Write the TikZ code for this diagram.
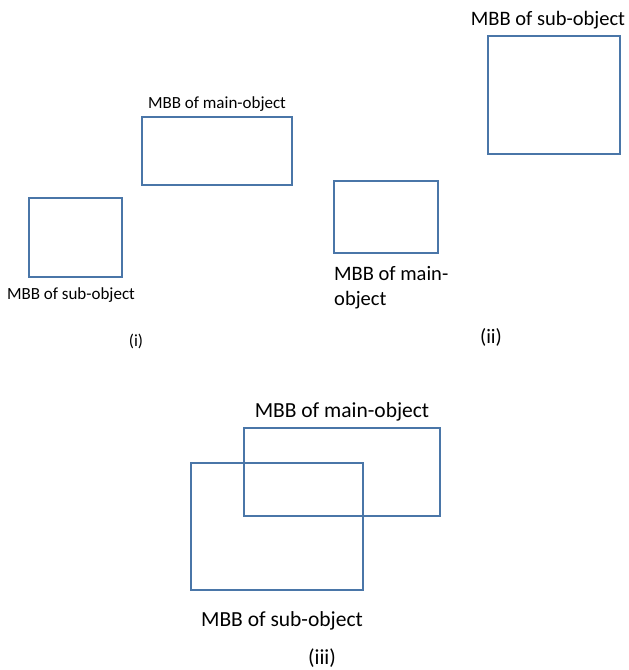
\documentclass[tikz,border=0pt]{standalone}
\usepackage{fontspec}
\setmainfont{Carlito}
\begin{document}
\begin{tikzpicture}[x=1pt,y=-1pt,
  mbb/.style={draw=boxblue,line width=1.4pt},
  lblsmall/.style={font=\fontsize{17}{20}\selectfont,inner sep=0pt},
  lblmid/.style={font=\fontsize{20.5}{25}\selectfont,inner sep=0pt},
  lblbig/.style={font=\fontsize{21.5}{26}\selectfont,inner sep=0pt},
  caption/.style={font=\fontsize{17}{20}\selectfont,inner sep=0pt}]
\definecolor{boxblue}{HTML}{4A76A8}
\useasboundingbox (0,0) rectangle (629,670);

% (i) disjoint boxes
\draw[mbb] (142,117) rectangle (292,185);
\node[lblsmall] (lmainA) at (217,104) {MBB of main-object};
\draw[mbb] (29,198) rectangle (122,277);
\node[lblsmall] (lsubA) at (71,295) {MBB of sub-object};
\node[caption] (capA) at (136,341) {(i)};

% (ii) sub-object above and to the right
\draw[mbb] (488,36) rectangle (620,154);
\node[lblmid] (lsubB) at (548,20) {MBB of sub-object};
\draw[mbb] (334,181) rectangle (438,253);
\node[lblmid,anchor=west,align=left] (lmainB) at (334,288) {MBB of main-\\object};
\node[lblmid] (capB) at (491,337) {(ii)};

% (iii) overlapping boxes
\draw[mbb] (244,428) rectangle (440,516);
\node[lblbig] (lmainC) at (342,412) {MBB of main-object};
\draw[mbb] (191,463) rectangle (363,590);
\node[lblbig] (lsubC) at (282,621) {MBB of sub-object};
\node[lblbig] (capC) at (322,658) {(iii)};
\end{tikzpicture}
\end{document}
